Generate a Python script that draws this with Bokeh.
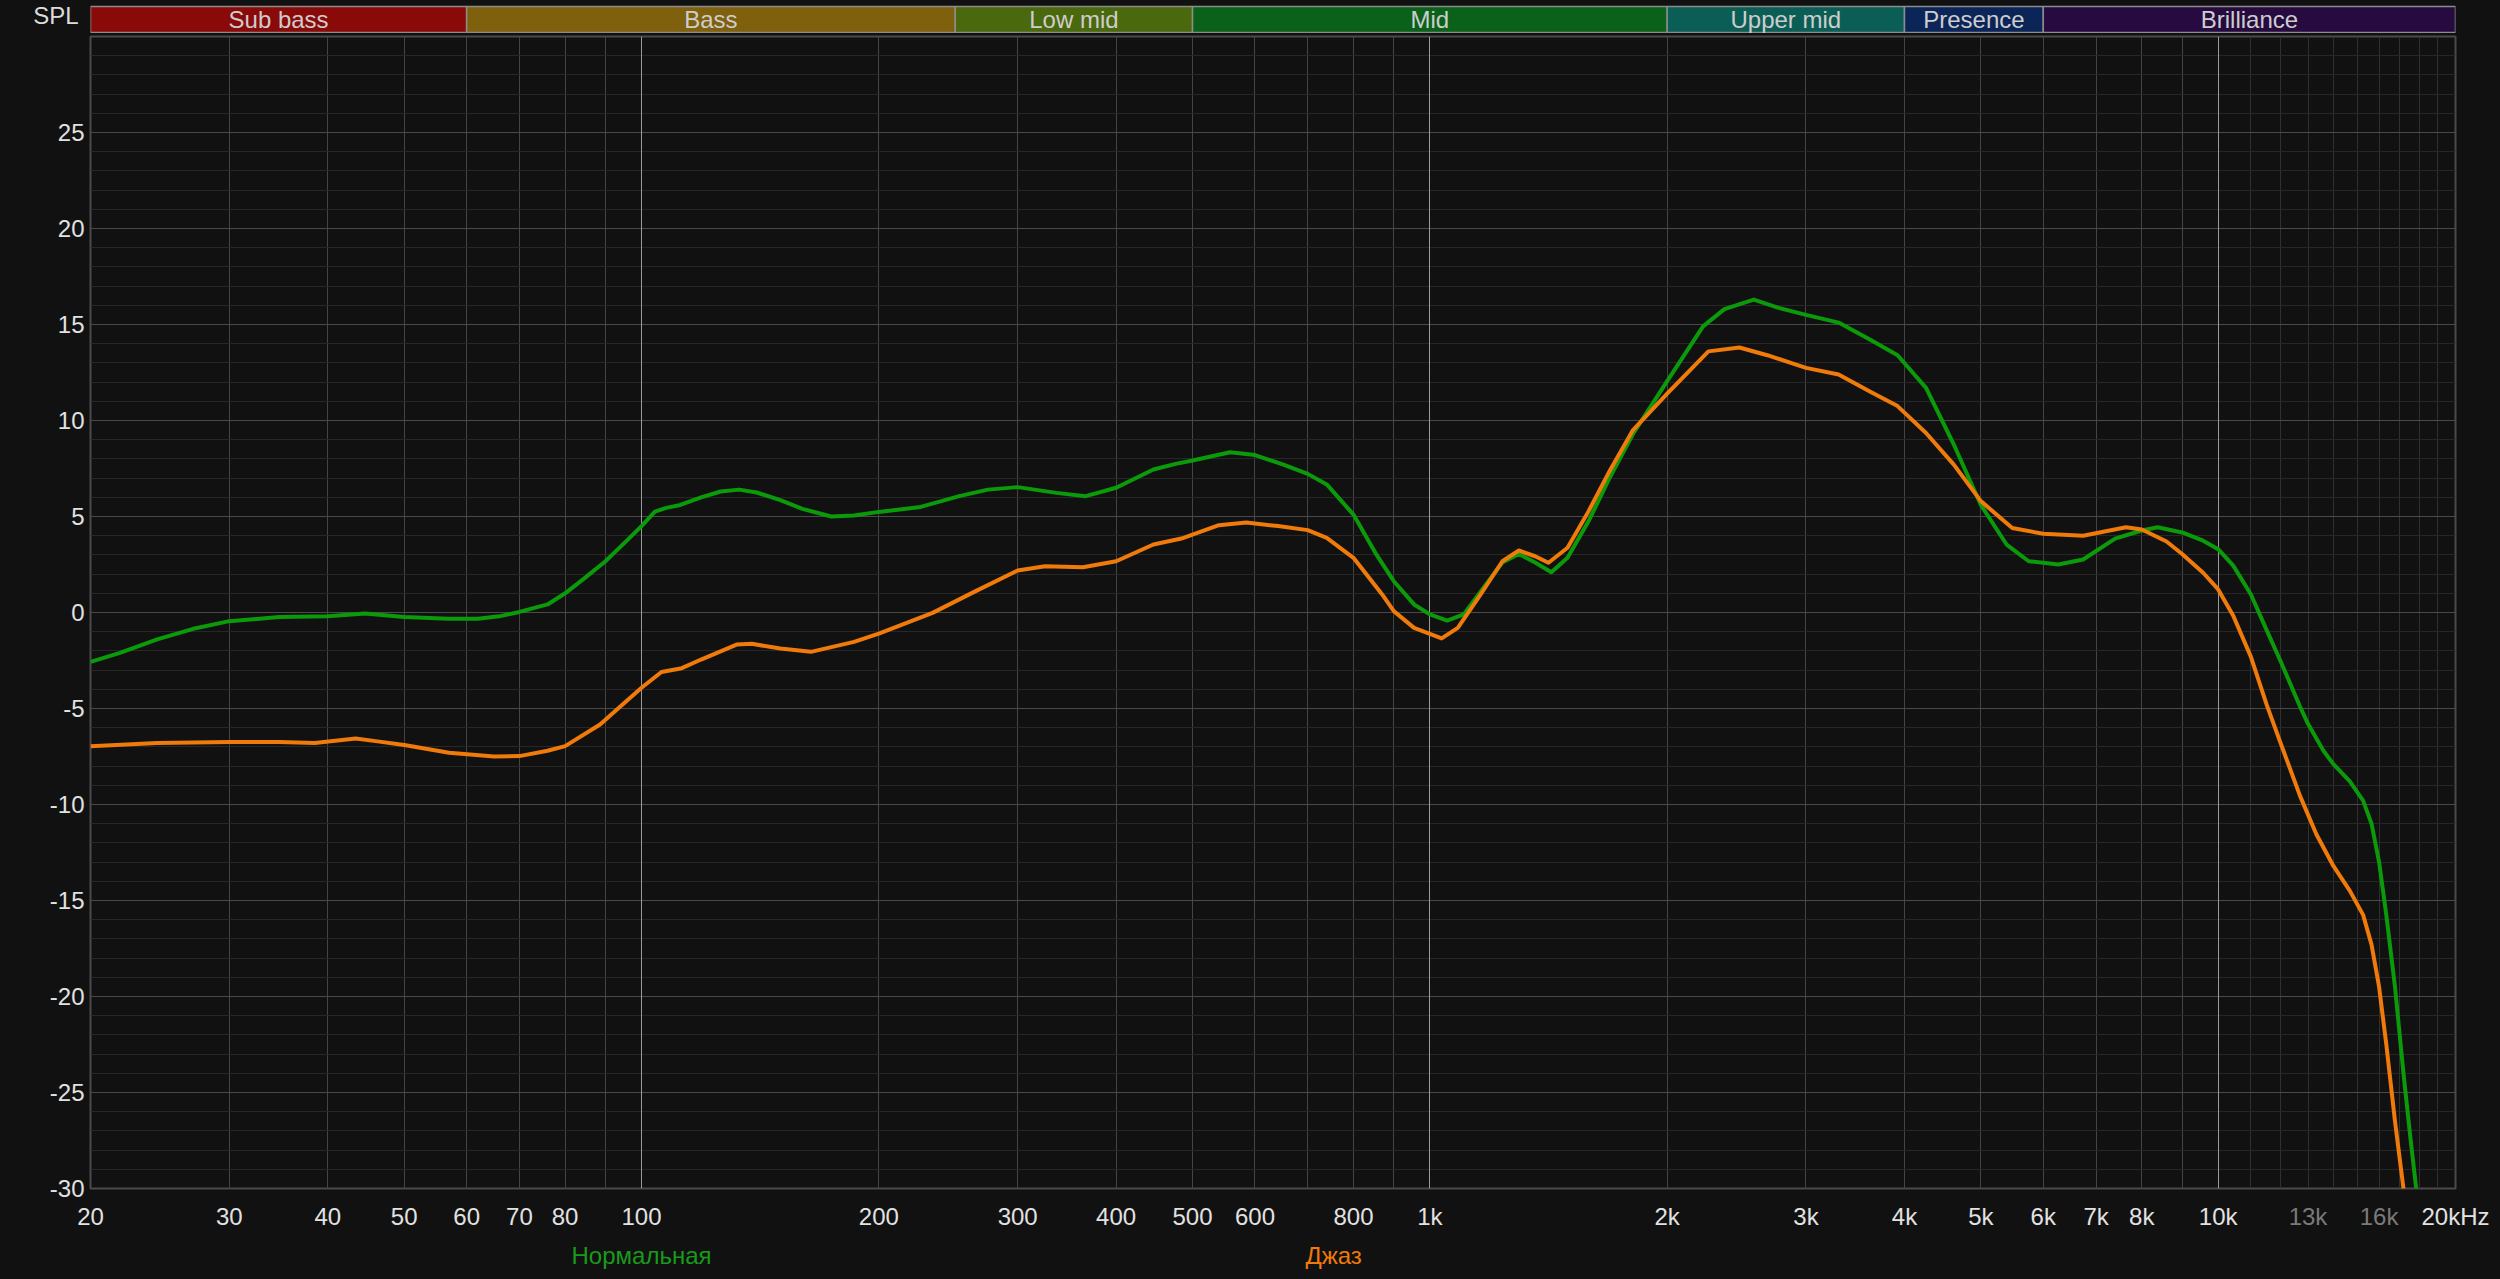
from bokeh.plotting import figure
from bokeh.layouts import column
from bokeh.models import Range1d, FixedTicker, Grid, ColumnDataSource
from bokeh.embed import file_html
from bokeh.resources import INLINE
from bokeh.core.properties import value

# ---------------- data ----------------
SERIES_NAMES = ["Нормальная", "Джаз"]

FREQ_NORMAL = [20, 21.8, 24.3, 27, 30, 34.7, 40, 44.6, 50, 56.9, 62, 66, 70, 76, 80, 85, 90, 95,
               100, 104, 107.5, 112, 119, 126, 133, 140, 150, 160, 174, 186, 200, 226, 253, 275,
               300, 336, 366, 400, 446, 476, 500, 558, 600, 652, 700, 740, 800, 856, 900, 955,
               1000, 1052, 1104, 1178, 1236, 1297, 1360, 1426, 1495, 1590, 1690, 1810, 2000,
               2221, 2364, 2576, 2763, 3000, 3300, 3620, 3920, 4260, 4620, 5000, 5390, 5750,
               6270, 6740, 7400, 8000, 8380, 9000, 9570, 10000, 10450, 11000, 11520, 12000,
               12700, 13000, 13600, 14000, 14690, 15270, 15650, 16000, 16340, 16760, 17180,
               17520, 17830, 17950]
DB_NORMAL = [-2.57, -2.1, -1.4, -0.85, -0.45, -0.24, -0.19, -0.05, -0.23, -0.33, -0.33, -0.2,
             0.03, 0.42, 1.0, 1.84, 2.67, 3.6, 4.5, 5.25, 5.45, 5.6, 6.0, 6.3, 6.4, 6.25, 5.85,
             5.4, 5.0, 5.05, 5.24, 5.5, 6.06, 6.4, 6.53, 6.23, 6.06, 6.5, 7.45, 7.74, 7.92,
             8.35, 8.2, 7.7, 7.22, 6.67, 5.1, 3.0, 1.63, 0.42, -0.1, -0.42, -0.1, 1.46, 2.6,
             3.05, 2.6, 2.1, 2.85, 4.76, 7.0, 9.3, 12.05, 14.9, 15.8, 16.3, 15.88, 15.5, 15.1,
             14.2, 13.4, 11.7, 8.75, 5.6, 3.54, 2.67, 2.5, 2.76, 3.85, 4.27, 4.44, 4.17, 3.74,
             3.3, 2.44, 0.95, -0.92, -2.54, -4.9, -5.8, -7.2, -7.9, -8.8, -9.8, -11.0, -13.0,
             -15.75, -19.5, -24.0, -27.25, -30.0, -31.0]

FREQ_JAZZ = [20, 24.3, 30, 34.7, 38.5, 43.4, 46, 50, 57, 65, 70, 76, 80, 88.6, 94, 100, 106,
             112.5, 119, 132, 138, 150, 164, 186, 200, 234, 265, 300, 325, 363, 400, 446, 484,
             500, 540, 585, 642, 700, 740, 800, 870, 900, 955, 1000, 1035, 1085, 1160, 1236,
             1297, 1360, 1414, 1495, 1590, 1690, 1810, 2000, 2256, 2470, 2680, 3000, 3300,
             3620, 3920, 4260, 4620, 5000, 5480, 6000, 6740, 7640, 8000, 8600, 9000, 9570,
             10000, 10450, 11000, 11520, 12000, 12700, 13320, 14000, 14690, 15270, 15650,
             16000, 16340, 16760, 17180, 17300]
DB_JAZZ = [-6.96, -6.8, -6.74, -6.75, -6.8, -6.56, -6.7, -6.9, -7.3, -7.5, -7.48, -7.2, -6.96,
           -5.83, -4.9, -3.92, -3.1, -2.9, -2.45, -1.67, -1.63, -1.88, -2.05, -1.53, -1.1,
           -0.02, 1.1, 2.19, 2.41, 2.36, 2.67, 3.54, 3.85, 4.06, 4.55, 4.69, 4.5, 4.29, 3.89,
           2.85, 0.94, 0.07, -0.8, -1.11, -1.35, -0.8, 0.94, 2.67, 3.23, 2.93, 2.59, 3.37,
           5.28, 7.36, 9.5, 11.4, 13.6, 13.8, 13.4, 12.74, 12.4, 11.5, 10.75, 9.35, 7.7, 5.8,
           4.4, 4.1, 4.0, 4.44, 4.32, 3.7, 3.05, 2.07, 1.2, -0.17, -2.3, -4.8, -6.8, -9.55,
           -11.55, -13.2, -14.5, -15.75, -17.3, -19.5, -22.5, -26.5, -30.0, -31.0]

BAND_NAMES = ["Sub bass", "Bass", "Low mid", "Mid", "Upper mid", "Presence", "Brilliance"]
BAND_START = [20, 60, 250, 500, 2000, 4000, 6000]
BAND_END = [60, 250, 500, 2000, 4000, 6000, 20000]
BAND_COLORS = ["#8a0a0a", "#7f600c", "#4a680c", "#0a621a", "#0b5e55", "#0b2558", "#260a40"]

X_TICKS = [20, 30, 40, 50, 60, 70, 80, 100, 200, 300, 400, 500, 600, 800, 1000, 2000, 3000,
           4000, 5000, 6000, 7000, 8000, 10000, 20000]
X_TICK_LABELS = ["20", "30", "40", "50", "60", "70", "80", "100", "200", "300", "400", "500",
                 "600", "800", "1k", "2k", "3k", "4k", "5k", "6k", "7k", "8k", "10k", "20kHz"]
X_TICKS_DIM = [13000, 16000]
X_TICK_DIM_LABELS = ["13k", "16k"]
X_GRID = [20, 30, 40, 50, 60, 70, 80, 90, 200, 300, 400, 500, 600, 700, 800, 900,
          2000, 3000, 4000, 5000, 6000, 7000, 8000, 9000, 20000]
X_GRID_FINE = [11000, 12000, 13000, 14000, 15000, 16000, 17000, 18000, 19000]
X_GRID_DECADES = [100, 1000, 10000]
Y_TICKS = [-30, -25, -20, -15, -10, -5, 0, 5, 10, 15, 20, 25]
Y_TICK_LABELS = ["-30", "-25", "-20", "-15", "-10", "-5", "0", "5", "10", "15", "20", "25"]
Y_MINOR = [v for v in range(-29, 30) if v % 5 != 0]

X_MIN, X_MAX = 20, 20000
Y_MIN, Y_MAX = -30, 30

# ---------------- style / layout ----------------
BG = "#111111"
FONT = "Liberation Sans"
GREEN = "#0a9a0a"
ORANGE = "#f07a0a"
TICK_COLOR = "#e2e2e2"
DIM_COLOR = "#7a7a7a"
W = 2500
LEFT = 90
RIGHT = 45
HEADER_H = 33
MAIN_TOP = 3
FRAME_H = 1152
MAIN_BOTTOM = 14
MAIN_H = MAIN_TOP + FRAME_H + MAIN_BOTTOM
FOOT_H = 1279 - HEADER_H - MAIN_H
TICK_ROW = 14      # px below the top of the footer (label centre)
LEGEND_ROW = 53

x_range = Range1d(X_MIN, X_MAX)

# ---------------- header (frequency bands) ----------------
hdr = figure(width=W, height=HEADER_H, x_axis_type="log", x_range=x_range,
             y_range=Range1d(0, 1), title=None, toolbar_location=None,
             output_backend="svg", x_axis_location=None, y_axis_location="left",
             min_border_left=LEFT, min_border_right=RIGHT, min_border_top=0,
             min_border_bottom=0)
hdr.background_fill_color = BG
hdr.border_fill_color = BG
hdr.outline_line_color = None
hdr.xgrid.visible = False
hdr.ygrid.visible = False

band_src = ColumnDataSource(dict(
    left=BAND_START, right=BAND_END, color=BAND_COLORS, name=BAND_NAMES,
    center=[(a * b) ** 0.5 for a, b in zip(BAND_START, BAND_END)],
))
hdr.quad(left="left", right="right", bottom=0.03, top=0.82, fill_color="color",
         line_color="#8c8c8c", line_width=1.5, source=band_src)
hdr.text(x="center", y=0.425, text="name", source=band_src, text_align="center",
         text_baseline="middle", text_color="#cdcdcd", text_font=value(FONT),
         text_font_size="24px")

hdr.yaxis.ticker = FixedTicker(ticks=[0.54])
hdr.yaxis.major_label_overrides = {0.54: "SPL"}
hdr.yaxis.axis_line_color = None
hdr.yaxis.major_tick_line_color = None
hdr.yaxis.minor_tick_line_color = None
hdr.yaxis.major_label_standoff = 6
hdr.yaxis.major_label_text_color = "#dcdcdc"
hdr.yaxis.major_label_text_font = FONT
hdr.yaxis.major_label_text_font_size = "24px"

# ---------------- main chart ----------------
p = figure(width=W, height=MAIN_H, x_axis_type="log", x_range=x_range,
           y_range=Range1d(Y_MIN, Y_MAX), title=None, toolbar_location=None,
           output_backend="svg", x_axis_location=None, y_axis_location="left",
           min_border_left=LEFT, min_border_right=RIGHT,
           min_border_top=MAIN_TOP, min_border_bottom=MAIN_BOTTOM)
p.background_fill_color = BG
p.border_fill_color = BG
p.outline_line_color = "#4a4a4a"
p.outline_line_width = 2

p.xgrid.ticker = FixedTicker(ticks=X_GRID, minor_ticks=X_GRID_FINE)
p.xgrid.grid_line_color = "#444444"
p.xgrid.minor_grid_line_color = "#303030"
p.ygrid.ticker = FixedTicker(ticks=Y_TICKS, minor_ticks=Y_MINOR)
p.ygrid.grid_line_color = "#4a4a4a"
p.ygrid.minor_grid_line_color = "#272727"
p.add_layout(Grid(dimension=0, ticker=FixedTicker(ticks=X_GRID_DECADES),
                  grid_line_color="#9a9a9a"))

yax = p.yaxis[0]
yax.ticker = FixedTicker(ticks=Y_TICKS)
yax.major_label_overrides = dict(zip(Y_TICKS, Y_TICK_LABELS))
yax.axis_line_color = None
yax.major_tick_line_color = None
yax.minor_tick_line_color = None
yax.major_tick_out = 0
yax.major_label_text_color = TICK_COLOR
yax.major_label_text_font = FONT
yax.major_label_text_font_size = "24px"
yax.major_label_standoff = 6

p.line(FREQ_NORMAL, DB_NORMAL, line_color=GREEN, line_width=4, line_join="round")
p.line(FREQ_JAZZ, DB_JAZZ, line_color=ORANGE, line_width=4, line_join="round")

# ---------------- footer: frequency labels and series names ----------------
# same log mapping as the main frame, but the footer frame spans the full width
px_per_decade = (W - LEFT - RIGHT) / 3.0
foot_range = Range1d(X_MIN * 10 ** (-LEFT / px_per_decade),
                     X_MAX * 10 ** (RIGHT / px_per_decade))
foot = figure(width=W, height=FOOT_H, x_axis_type="log", x_range=foot_range,
              y_range=Range1d(FOOT_H, 0), title=None, toolbar_location=None,
              output_backend="svg", x_axis_location=None, y_axis_location=None,
              min_border_left=0, min_border_right=0, min_border_top=0,
              min_border_bottom=0)
foot.frame_align = False
foot.background_fill_color = BG
foot.border_fill_color = BG
foot.outline_line_color = None
foot.xgrid.visible = False
foot.ygrid.visible = False

tick_src = ColumnDataSource(dict(
    x=X_TICKS + X_TICKS_DIM,
    text=X_TICK_LABELS + X_TICK_DIM_LABELS,
    color=[TICK_COLOR] * len(X_TICKS) + [DIM_COLOR] * len(X_TICKS_DIM),
))
foot.text(x="x", y=TICK_ROW, text="text", text_color="color", source=tick_src,
          text_align="center", text_baseline="middle", text_font=value(FONT),
          text_font_size="24px")

legend_src = ColumnDataSource(dict(x=[100, 755], text=SERIES_NAMES,
                                   color=["#1a9a1a", ORANGE]))
foot.text(x="x", y=LEGEND_ROW, text="text", text_color="color", source=legend_src,
          text_align="center", text_baseline="middle", text_font=value(FONT),
          text_font_size="24px")

layout = column(hdr, p, foot, spacing=0, styles={"background-color": BG})
open("out.html", "w").write(file_html(layout, INLINE))
